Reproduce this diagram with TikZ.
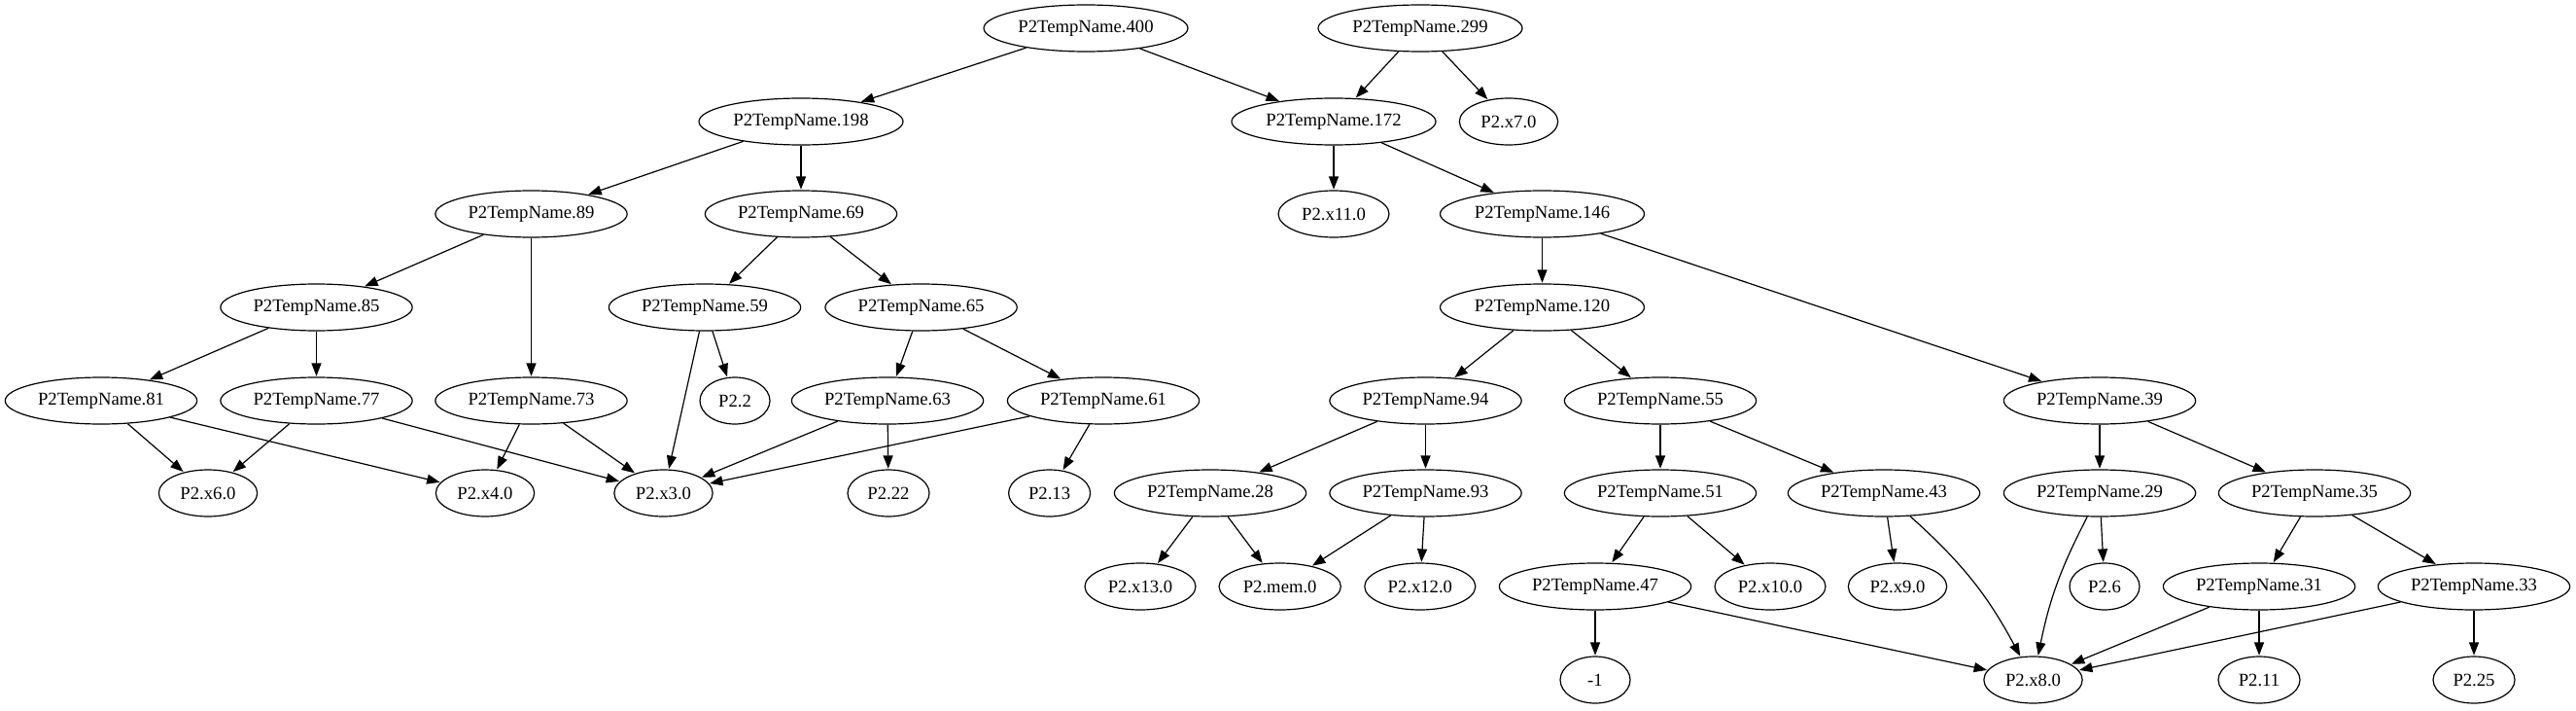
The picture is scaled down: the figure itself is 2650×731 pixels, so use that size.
\documentclass[tikz,border=0pt]{standalone}
\usepackage{fontspec}
\setmainfont{Liberation Serif}
\usepackage{tikz}
\usetikzlibrary{arrows.meta, shapes.geometric}

\begin{document}
\begin{tikzpicture}[
    x=0.75pt, y=-0.75pt,
    every node/.style={font=\fontsize{14pt}{16pt}\selectfont},
    vbox/.style={draw, ellipse, inner sep=0pt, minimum height=36pt, line width=0.9pt},
    tmpl/.style={vbox, minimum width=157.5pt},
    tmps/.style={vbox, minimum width=148pt},
    leaf/.style={vbox, minimum width=#1},
    arrow/.style={-{Triangle[length=10pt, width=7.5pt]}, line width=0.9pt, shorten >=0.5pt}
  ]
  \useasboundingbox (0,0) rectangle (2650,731);

  % Row 0: roots
  \node[tmpl] (n400) at (1117,29) {P2TempName.400};
  \node[tmpl] (n299) at (1461,29) {P2TempName.299};

  % Row 1
  \node[tmpl] (n198) at (824,125) {P2TempName.198};
  \node[tmpl] (n172) at (1372,125) {P2TempName.172};
  \node[leaf=76pt] (x7) at (1552,125) {P2.x7.0};

  % Row 2
  \node[tmps] (n89) at (546.5,220) {P2TempName.89};
  \node[tmps] (n69) at (824,220) {P2TempName.69};
  \node[leaf=85.5pt] (x11) at (1372,220) {P2.x11.0};
  \node[tmpl] (n146) at (1586.5,220) {P2TempName.146};

  % Row 3
  \node[tmps] (n85) at (325.5,316) {P2TempName.85};
  \node[tmps] (n59) at (725,316) {P2TempName.59};
  \node[tmps] (n65) at (947.6,316) {P2TempName.65};
  \node[tmpl] (n120) at (1586.5,316) {P2TempName.120};

  % Row 4
  \node[tmps] (n81) at (104,412) {P2TempName.81};
  \node[tmps] (n77) at (325.5,412) {P2TempName.77};
  \node[tmps] (n73) at (546.5,412) {P2TempName.73};
  \node[leaf=54pt] (p2) at (756,412) {P2.2};
  \node[tmps] (n63) at (913,412) {P2TempName.63};
  \node[tmps] (n61) at (1135,412) {P2TempName.61};
  \node[tmps] (n94) at (1466.5,412) {P2TempName.94};
  \node[tmps] (n55) at (1708,412) {P2TempName.55};
  \node[tmps] (n39) at (2160,412) {P2TempName.39};

  % Row 5
  \node[leaf=76pt] (x6) at (214,507) {P2.x6.0};
  \node[leaf=76pt] (x4) at (499,507) {P2.x4.0};
  \node[leaf=76pt] (x3) at (682.5,507) {P2.x3.0};
  \node[leaf=63pt] (p22) at (914,507) {P2.22};
  \node[leaf=63pt] (p13) at (1079.6,507) {P2.13};
  \node[tmps] (n28) at (1245,507) {P2TempName.28};
  \node[tmps] (n93) at (1466.5,507) {P2TempName.93};
  \node[tmps] (n51) at (1708,507) {P2TempName.51};
  \node[tmps] (n43) at (1938,507) {P2TempName.43};
  \node[tmps] (n29) at (2160,507) {P2TempName.29};
  \node[tmps] (n35) at (2381,507) {P2TempName.35};

  % Row 6
  \node[leaf=85.5pt] (x13) at (1173,603) {P2.x13.0};
  \node[leaf=94pt] (mem) at (1316.7,603) {P2.mem.0};
  \node[leaf=85.5pt] (x12) at (1460.8,603) {P2.x12.0};
  \node[tmps] (n47) at (1641,603) {P2TempName.47};
  \node[leaf=85.5pt] (x10) at (1821,603) {P2.x10.0};
  \node[leaf=76pt] (x9) at (1952,603) {P2.x9.0};
  \node[leaf=54pt] (p6) at (2165,603) {P2.6};
  \node[tmps] (n31) at (2324,603) {P2TempName.31};
  \node[tmps] (n33) at (2545,603) {P2TempName.33};

  % Row 7
  \node[leaf=54pt] (m1) at (1641,699) {-1};
  \node[leaf=76pt] (x8) at (2091.5,699) {P2.x8.0};
  \node[leaf=63pt] (p11) at (2324,699) {P2.11};
  \node[leaf=63pt] (p25) at (2545,699) {P2.25};

  % Edges
  \draw[arrow] (n400) -- (n198);
  \draw[arrow] (n400) -- (n172);
  \draw[arrow] (n299) -- (n172);
  \draw[arrow] (n299) -- (x7);
  \draw[arrow] (n198) -- (n89);
  \draw[arrow] (n198) -- (n69);
  \draw[arrow] (n172) -- (x11);
  \draw[arrow] (n172) -- (n146);
  \draw[arrow] (n89) -- (n85);
  \draw[arrow] (n89) -- (n73);
  \draw[arrow] (n69) -- (n59);
  \draw[arrow] (n69) -- (n65);
  \draw[arrow] (n146) -- (n120);
  \draw[arrow] (n146) -- (n39);
  \draw[arrow] (n85) -- (n81);
  \draw[arrow] (n85) -- (n77);
  \draw[arrow] (n59) -- (x3);
  \draw[arrow] (n59) -- (p2);
  \draw[arrow] (n65) -- (n63);
  \draw[arrow] (n65) -- (n61);
  \draw[arrow] (n120) -- (n94);
  \draw[arrow] (n120) -- (n55);
  \draw[arrow] (n81) -- (x6);
  \draw[arrow] (n81) -- (x4);
  \draw[arrow] (n77) -- (x6);
  \draw[arrow] (n77) -- (x3);
  \draw[arrow] (n73) -- (x4);
  \draw[arrow] (n73) -- (x3);
  \draw[arrow] (n63) -- (x3);
  \draw[arrow] (n63) -- (p22);
  \draw[arrow] (n61) -- (x3);
  \draw[arrow] (n61) -- (p13);
  \draw[arrow] (n94) -- (n28);
  \draw[arrow] (n94) -- (n93);
  \draw[arrow] (n55) -- (n51);
  \draw[arrow] (n55) -- (n43);
  \draw[arrow] (n39) -- (n29);
  \draw[arrow] (n39) -- (n35);
  \draw[arrow] (n28) -- (x13);
  \draw[arrow] (n28) -- (mem);
  \draw[arrow] (n93) -- (mem);
  \draw[arrow] (n93) -- (x12);
  \draw[arrow] (n51) -- (n47);
  \draw[arrow] (n51) -- (x10);
  \draw[arrow] (n43) -- (x9);
  \draw[arrow] (n43) to[bend left=10] (x8);
  \draw[arrow] (n29) to[bend right=8] (x8);
  \draw[arrow] (n29) -- (p6);
  \draw[arrow] (n35) -- (n31);
  \draw[arrow] (n35) -- (n33);
  \draw[arrow] (n47) -- (m1);
  \draw[arrow] (n47) -- (x8);
  \draw[arrow] (n31) -- (x8);
  \draw[arrow] (n31) -- (p11);
  \draw[arrow] (n33) -- (x8);
  \draw[arrow] (n33) -- (p25);

\end{tikzpicture}
\end{document}
